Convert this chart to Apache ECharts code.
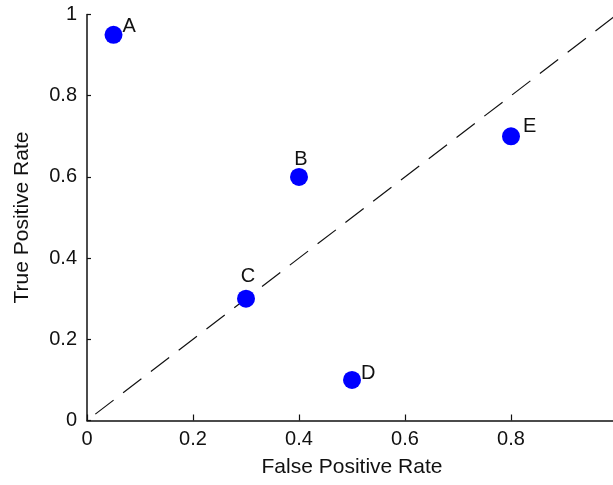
<!DOCTYPE html>
<html><head><meta charset="utf-8">
<script src="https://cdn.jsdelivr.net/npm/echarts@6/dist/echarts.min.js"></script>
<style>html,body{margin:0;padding:0;background:#fff}#c{width:613px;height:485px}</style>
</head><body><div id="c"></div>
<script>
const pointNames = ['A', 'B', 'C', 'D', 'E'];
const fprValues = [0.05, 0.4, 0.3, 0.5, 0.8];
const tprValues = [0.95, 0.6, 0.3, 0.1, 0.7];
const diagX = [0, 1];
const diagY = [0, 1];
const xTicks = [0, 0.2, 0.4, 0.6, 0.8, 1];
const yTicks = [0, 0.2, 0.4, 0.6, 0.8, 1];

const labelStyles = {
  A: {position: 'right', offset: [-4, -8]},
  B: {position: 'top', offset: [2, 6]},
  C: {position: 'top', offset: [2, 1]},
  D: {position: 'right', offset: [-4, -6]},
  E: {position: 'right', offset: [-1, -10]}
};

const fmt = v => (v === 0 ? '0' : v === 1 ? '1' : String(v));
const font = 'Liberation Sans, Arial, sans-serif';

const chart = echarts.init(document.getElementById('c'), null, {renderer: 'canvas'});
chart.setOption({
  animation: false,
  backgroundColor: '#fff',
  grid: {left: 87, top: 14.5, width: 530, height: 406, containLabel: false, outerBoundsMode: 'none'},
  xAxis: {
    type: 'value', min: 0, max: 1, interval: 0.2,
    name: 'False Positive Rate', nameLocation: 'middle', nameGap: 36,
    nameTextStyle: {color: '#111', fontSize: 21, fontFamily: font},
    axisLine: {lineStyle: {color: '#111', width: 1.5}},
    axisTick: {inside: true, length: 6, lineStyle: {color: '#111', width: 1.2}},
    axisLabel: {color: '#111', fontSize: 20, fontFamily: font, margin: 9, formatter: fmt,
      showMaxLabel: true, showMinLabel: true, hideOverlap: false},
    splitLine: {show: false}
  },
  yAxis: {
    type: 'value', min: 0, max: 1, interval: 0.2,
    name: 'True Positive Rate', nameLocation: 'middle', nameGap: 54,
    nameTextStyle: {color: '#111', fontSize: 21, fontFamily: font},
    axisLine: {show: true, lineStyle: {color: '#111', width: 1.5}},
    axisTick: {show: true, inside: true, length: 4, lineStyle: {color: '#111', width: 1.2}},
    axisLabel: {color: '#111', fontSize: 20, fontFamily: font, margin: 10, formatter: fmt},
    splitLine: {show: false}
  },
  series: [
    {
      type: 'line',
      data: diagX.map((x, i) => [x, diagY[i]]),
      symbol: 'none',
      lineStyle: {color: '#111', width: 1.2, type: [23, 12], dashOffset: 24.5},
      silent: true, z: 1
    },
    {
      type: 'scatter',
      data: pointNames.map((n, i) => ({
        name: n, value: [fprValues[i], tprValues[i]],
        label: {show: true, formatter: n, ...labelStyles[n]}
      })),
      symbol: 'circle', symbolSize: 18,
      itemStyle: {color: '#0000ff', opacity: 1},
      label: {color: '#111', fontSize: 20, fontFamily: font, distance: 4},
      z: 2
    }
  ]
});
</script></body></html>
